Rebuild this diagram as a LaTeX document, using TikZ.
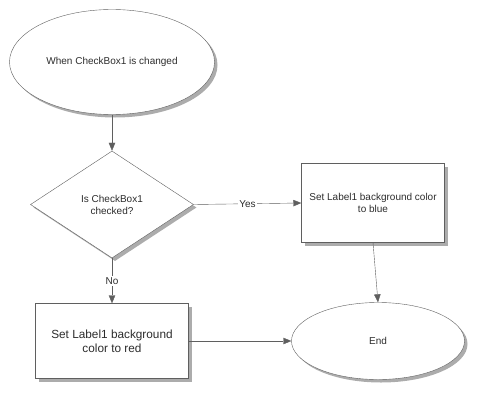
\documentclass[tikz,border=0pt]{standalone}
\usepackage{fontspec}
\setmainfont{Liberation Sans}
\usetikzlibrary{arrows.meta,shapes.geometric,shadows}
\definecolor{edgegray}{RGB}{95,95,95}
\definecolor{textgray}{RGB}{45,45,45}
\begin{document}
\begin{tikzpicture}[x=1pt, y=-1pt, every node/.style={font=\fontsize{10}{12}\selectfont, text=textgray}]
\tikzset{box/.style={draw=edgegray, fill=white, align=center, inner sep=0pt,
    drop shadow={shadow xshift=3pt, shadow yshift=-3pt, fill=gray!65, opacity=1}},
  arr/.style={draw=edgegray, -{Triangle[length=8pt,width=6.5pt]}},
  tag/.style={fill=white, inner sep=1.5pt}}
\useasboundingbox (0,0) rectangle (478,396);
% shapes
\node[box, ellipse, minimum width=205pt, minimum height=105pt] (start) at (112,62) {When CheckBox1 is changed};
\node[box, diamond, minimum width=163pt, minimum height=107pt] (check) at (112,204.5) {Is CheckBox1\\checked?};
\node[box, rectangle, minimum width=143pt, minimum height=79pt] (blue) at (373,203) {Set Label1 background color\\to blue};
\node[box, rectangle, minimum width=153pt, minimum height=75pt, font=\fontsize{11.8}{14}\selectfont] (red) at (112,341) {Set Label1 background\\color to red};
\node[box, ellipse, minimum width=173pt, minimum height=77pt] (finish) at (378,341) {End};
% connectors
\draw[arr] (start) -- (check);
\draw[arr] (check.east) -- node[tag] {Yes} (blue.west);
\draw[arr] (check.south) -- node[tag] {No} (red.north);
\draw[arr] (blue.south) -- (finish.north);
\draw[arr] (red.east) -- (finish.west);
\end{tikzpicture}
\end{document}
